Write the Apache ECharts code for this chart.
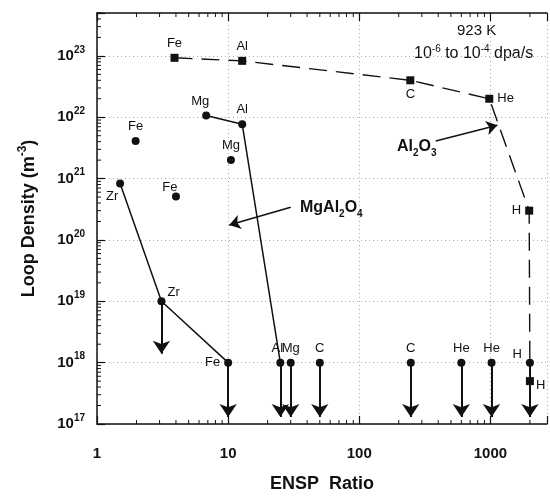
<!DOCTYPE html>
<html>
<head>
<meta charset="utf-8">
<script src="https://cdn.jsdelivr.net/npm/echarts@6/dist/echarts.min.js"></script>
<style>
html, body { margin: 0; padding: 0; background: #fff; }
#chart { width: 550px; height: 498px; }
</style>
</head>
<body>
<div id="chart"></div>
<script>
// Al2O3 : squares on the dashed curve
var al2o3Names = ['Fe', 'Al', 'C', 'He', 'H', 'H'];
var al2o3X = [3.9, 12.8, 245, 980, 1975, 2000];
var al2o3Y = [9.3e22, 8.3e22, 4e22, 2e22, 3e20, 5e17];

// MgAl2O4 : solid lines
var mgNames = ['Mg', 'Al', 'Al'];
var mgX = [6.8, 12.8, 25];
var mgY = [1.07e22, 7.7e21, 1e18];

var zrNames = ['Zr', 'Zr', 'Fe'];
var zrX = [1.5, 3.1, 10];
var zrY = [8.3e20, 1e19, 1e18];

// loose points
var dotNames = ['Fe', 'Mg', 'Fe', 'Mg', 'C', 'C', 'He', 'He', 'H'];
var dotX = [1.97, 10.5, 4.0, 30, 50, 247, 600, 1020, 2000];
var dotY = [4.1e21, 2e21, 5.1e20, 1e18, 1e18, 1e18, 1e18, 1e18, 1e18];

// upper limit arrows
var arrowX = [3.1, 10, 25, 30, 50, 247, 600, 1020, 2000];
var arrowFrom = [1e19, 1e18, 1e18, 1e18, 1e18, 1e18, 1e18, 1e18, 1e18];
var arrowTo = [1.4e18, 1.3e17, 1.3e17, 1.3e17, 1.3e17, 1.3e17, 1.3e17, 1.3e17, 1.3e17];

// axes
var xMin = 1, xMax = 2700;
var yMin = 1e17, yMax = 5e23;
var decadesX = [1, 10, 100, 1000];
var decadesY = [1e17, 1e18, 1e19, 1e20, 1e21, 1e22, 1e23];
var minorMult = [2, 3, 4, 5, 6, 7, 8, 9];

var FONT = "'Liberation Sans', Arial, Helvetica, sans-serif";

var minorData = [];
decadesX.forEach(function (d) {
  minorMult.forEach(function (m) {
    if (d * m <= xMax) minorData.push([d * m, yMin, 0]);
  });
});
decadesY.forEach(function (d) {
  minorMult.forEach(function (m) {
    if (d * m <= yMax) minorData.push([xMin, d * m, 1]);
  });
});

function withLabels(xs, ys, names, pos) {
  return xs.map(function (x, i) {
    var p = pos[i] || {};
    return {
      value: [x, ys[i]],
      label: { show: true, formatter: names[i], position: p.position || 'top', offset: p.offset || [0, 0] }
    };
  });
}

var labelStyle = { color: '#111', fontSize: 13, fontFamily: FONT, distance: 4 };

var chart = echarts.init(document.getElementById('chart'));

var option = {
  backgroundColor: '#fff',
  animation: false,
  textStyle: { fontFamily: FONT },
  grid: { left: 97, right: 0, top: 13, bottom: 69 },
  xAxis: [
    {
      type: 'log', logBase: 10, min: xMin, max: xMax,
      name: 'ENSP  Ratio', nameLocation: 'middle', nameGap: 51,
      nameTextStyle: { fontSize: 18, fontWeight: 'bold', color: '#111', fontFamily: FONT },
      axisLine: { lineStyle: { color: '#111', width: 1.5 } },
      axisTick: { inside: true, length: 8, lineStyle: { color: '#111', width: 1.2 } },
      axisLabel: {
        margin: 22, color: '#111', fontSize: 15, fontWeight: 'bold',
        formatter: function (v) {
          var e = Math.log10(v);
          return Math.abs(e - Math.round(e)) < 1e-6 ? String(Math.round(v)) : '';
        }
      },
      splitLine: { show: true, lineStyle: { color: '#aaa', type: [1, 3], width: 1 } }
    },
    {
      type: 'log', logBase: 10, min: xMin, max: xMax, position: 'top',
      axisLine: { lineStyle: { color: '#111', width: 1.5 } },
      axisTick: { inside: true, length: 8, lineStyle: { color: '#111', width: 1.2 } },
      axisLabel: { show: false },
      splitLine: { show: false }
    }
  ],
  yAxis: {
    type: 'log', logBase: 10, min: yMin, max: yMax,
    name: 'Loop Density (m{sup|-3})', nameLocation: 'middle', nameGap: 56,
    nameTextStyle: {
      fontSize: 18, fontWeight: 'bold', color: '#111', fontFamily: FONT, lineHeight: 24,
      rich: { sup: { fontSize: 12, fontWeight: 'bold', verticalAlign: 'top', color: '#111', fontFamily: FONT, lineHeight: 12 } }
    },
    axisLine: { lineStyle: { color: '#111', width: 1.5 } },
    axisTick: { inside: true, length: 8, lineStyle: { color: '#111', width: 1.2 } },
    axisLabel: {
      margin: 12, color: '#111',
      formatter: function (v) {
        var e = Math.log10(v);
        if (Math.abs(e - Math.round(e)) > 1e-6) return '';
        return '{b|10}{sup|' + Math.round(e) + '}';
      },
      rich: {
        b: { fontSize: 15, fontWeight: 'bold', color: '#111', fontFamily: FONT, lineHeight: 22 },
        sup: { fontSize: 10, fontWeight: 'bold', color: '#111', fontFamily: FONT, verticalAlign: 'top', lineHeight: 10 }
      }
    },
    splitLine: { show: true, lineStyle: { color: '#aaa', type: [1, 3], width: 1 } }
  },
  series: [
    {
      // minor ticks on the log axes
      type: 'custom', silent: true, z: 1,
      data: minorData,
      renderItem: function (params, api) {
        var v0 = api.value(0), v1 = api.value(1), kind = api.value(2);
        var st = { stroke: '#111', lineWidth: 1 };
        if (kind === 0) {
          var b = api.coord([v0, yMin]);
          var t = api.coord([v0, yMax]);
          return { type: 'group', children: [
            { type: 'line', shape: { x1: b[0], y1: b[1], x2: b[0], y2: b[1] - 4 }, style: st },
            { type: 'line', shape: { x1: t[0], y1: t[1], x2: t[0], y2: t[1] + 4 }, style: st }
          ] };
        }
        var l = api.coord([xMin, v1]);
        return { type: 'line', shape: { x1: l[0], y1: l[1], x2: l[0] + 4, y2: l[1] }, style: st };
      }
    },
    {
      name: 'Al2O3', type: 'line',
      data: withLabels(al2o3X, al2o3Y, al2o3Names, [
        { position: 'top' }, { position: 'top' }, { position: 'bottom' },
        { position: 'right' }, { position: 'left' }, { position: 'right', offset: [-2, 4] }
      ]),
      symbol: 'rect', symbolSize: 8,
      itemStyle: { color: '#111', opacity: 1 },
      lineStyle: { color: '#111', width: 1.4, type: [18, 9] },
      label: labelStyle,
      z: 3
    },
    {
      name: 'MgAl2O4', type: 'line',
      data: withLabels(mgX, mgY, mgNames, [
        { position: 'top', offset: [-6, 0] }, { position: 'top' }, { position: 'top', offset: [-3, 0] }
      ]),
      symbol: 'circle', symbolSize: 8,
      itemStyle: { color: '#111', opacity: 1 },
      lineStyle: { color: '#111', width: 1.5 },
      label: labelStyle,
      z: 3
    },
    {
      name: 'MgAl2O4 Zr', type: 'line',
      data: withLabels(zrX, zrY, zrNames, [
        { position: 'bottom', offset: [-8, -2] }, { position: 'right', offset: [-2, -9] }, { position: 'left' }
      ]),
      symbol: 'circle', symbolSize: 8,
      itemStyle: { color: '#111', opacity: 1 },
      lineStyle: { color: '#111', width: 1.5 },
      label: labelStyle,
      z: 3
    },
    {
      name: 'points', type: 'scatter',
      data: withLabels(dotX, dotY, dotNames, [
        { position: 'top' }, { position: 'top' }, { position: 'top', offset: [-6, 5] },
        {}, {}, {}, {}, {}, { position: 'left', offset: [0, -8] }
      ]),
      symbol: 'circle', symbolSize: 8,
      itemStyle: { color: '#111', opacity: 1 },
      label: labelStyle,
      z: 3
    },
    {
      name: 'limits', type: 'lines', coordinateSystem: 'cartesian2d',
      data: arrowX.map(function (x, i) { return { coords: [[x, arrowFrom[i]], [x, arrowTo[i]]] }; }),
      symbol: ['none', 'arrow'], symbolSize: 13,
      lineStyle: { color: '#111', width: 2, opacity: 1 },
      z: 2
    },
    {
      name: 'callouts', type: 'lines', coordinateSystem: 'cartesian2d',
      data: [
        { coords: [[30, 3.4e20], [10.2, 1.75e20]] },
        { coords: [[383, 4.1e21], [1130, 7.4e21]] }
      ],
      symbol: ['none', 'arrow'], symbolSize: 11,
      lineStyle: { color: '#111', width: 1.5, opacity: 1 },
      z: 2
    }
  ],
  graphic: [
    {
      type: 'text', left: 457, top: 23,
      style: { text: '923 K', fontSize: 15, fill: '#111', fontFamily: FONT }
    },
    {
      type: 'text', left: 414, top: 44,
      style: {
        text: '10{sup|-6} to 10{sup|-4} dpa/s', fontSize: 16, fill: '#111', fontFamily: FONT, lineHeight: 20,
        rich: { sup: { fontSize: 10, verticalAlign: 'top', fill: '#111', fontFamily: FONT, lineHeight: 10 } }
      }
    },
    {
      type: 'text', left: 300, top: 197,
      style: {
        text: 'MgAl{sub|2}O{sub|4}', fontSize: 16, fontWeight: 'bold', fill: '#111', fontFamily: FONT, lineHeight: 22,
        rich: { sub: { fontSize: 10, fontWeight: 'bold', verticalAlign: 'bottom', fill: '#111', fontFamily: FONT, lineHeight: 10 } }
      }
    },
    {
      type: 'text', left: 397, top: 136,
      style: {
        text: 'Al{sub|2}O{sub|3}', fontSize: 16, fontWeight: 'bold', fill: '#111', fontFamily: FONT, lineHeight: 22,
        rich: { sub: { fontSize: 10, fontWeight: 'bold', verticalAlign: 'bottom', fill: '#111', fontFamily: FONT, lineHeight: 10 } }
      }
    }
  ]
};

chart.setOption(option);
</script>
</body>
</html>
